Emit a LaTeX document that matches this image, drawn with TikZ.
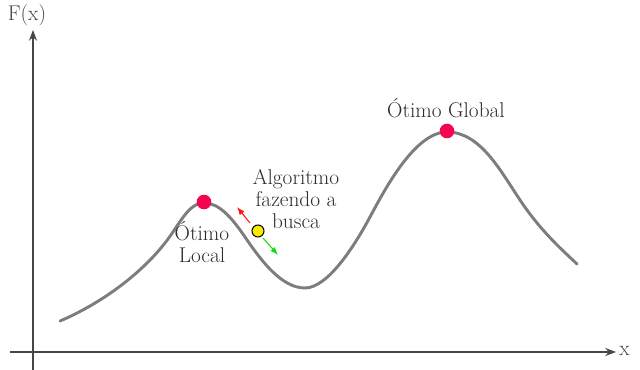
\documentclass[tikz,border=0pt]{standalone}
\usetikzlibrary{arrows.meta}
\definecolor{axisgray}{RGB}{70,70,70}
\definecolor{curvegray}{RGB}{125,125,125}
\definecolor{txtgray}{RGB}{45,45,45}
\definecolor{dotred}{RGB}{245,5,80}
\definecolor{dotyellow}{RGB}{250,235,0}
\definecolor{arrred}{RGB}{255,20,20}
\definecolor{arrgreen}{RGB}{20,220,20}
\tikzset{
  axisline/.style={draw=axisgray, line width=1.3pt, -{Stealth[length=8pt,width=6pt]}},
  lbl/.style={text=txtgray, font=\fontsize{16}{16.5}\selectfont, align=center, inner sep=0pt},
  optdot/.style={circle, fill=dotred, minimum size=11pt, inner sep=0pt},
  searchdot/.style={circle, fill=dotyellow, draw=black, line width=0.8pt, minimum size=9pt, inner sep=0pt},
  movearrow/.style={line width=0.8pt, -{Latex[length=6pt,width=4.5pt]}}
}
\begin{document}
\begin{tikzpicture}[x=0.75pt,y=-0.75pt]
\useasboundingbox (0,0) rectangle (640,370);
% axes
\coordinate (yb) at (33,370);
\coordinate (yt) at (33,30);
\coordinate (xl) at (10,352);
\coordinate (xr) at (616,352);
\draw[axisline] (yb) -- (yt);
\draw[axisline] (xl) -- (xr);
\node[lbl, anchor=west, text=axisgray] (xlab) at (619,351) {x};
\node[lbl, text=axisgray] (ylab) at (27,15) {F(x)};
% curve
\draw[curvegray, line width=2.2pt, line cap=round]
  (60,321) .. controls (100,304) and (140,275) .. (165,243)
  .. controls (180,224) and (188,203) .. (204,203)
  .. controls (218,203) and (230,215) .. (245,237)
  .. controls (262,262) and (282,288) .. (305,288)
  .. controls (328,288) and (355,245) .. (370,217)
  .. controls (385,189) and (415,132) .. (447,132)
  .. controls (480,132) and (500,170) .. (520,200)
  .. controls (540,230) and (560,248) .. (577,264);
% optima
\node[optdot] (loc) at (204,202) {};
\node[optdot] (glob) at (447,131) {};
\node[lbl] (loclab) at (202,242) {Ótimo\\Local};
\node[lbl] (globlab) at (446,108) {Ótimo Global};
% search point
\node[searchdot] (srch) at (258,231) {};
\coordinate (redstart) at (250,223);
\coordinate (redtip) at (237,207);
\coordinate (greenstart) at (263,238);
\coordinate (greentip) at (278,255);
\draw[movearrow, arrred] (redstart) -- (redtip);
\draw[movearrow, arrgreen] (greenstart) -- (greentip);
\node[lbl] (alglab) at (296,199) {Algoritmo\\fazendo a\\busca};
\end{tikzpicture}
\end{document}
